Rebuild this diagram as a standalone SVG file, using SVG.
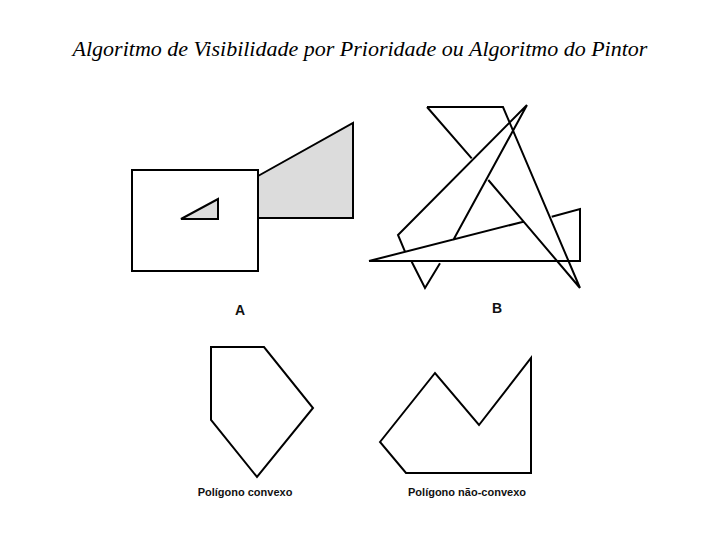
<svg xmlns="http://www.w3.org/2000/svg" width="720" height="540" viewBox="0 0 720 540">
<style>
.s{fill:none;stroke:#000;stroke-width:2;stroke-linejoin:miter}
.g{fill:#dcdcdc;stroke:#000;stroke-width:2}
.w{fill:#fff;stroke:#000;stroke-width:2}
.l{font-family:"Liberation Sans",Arial,sans-serif;font-weight:bold;fill:#111}
</style>
<rect width="720" height="540" fill="#fff"/>
<text x="360" y="56" text-anchor="middle" font-family="Liberation Serif,serif" font-style="italic" font-size="22">Algoritmo de Visibilidade por Prioridade ou Algoritmo do Pintor</text>
<g id="figA">
<polygon class="g" points="258,176 353,123 353,218 258,218"/>
<rect class="w" x="132" y="170" width="126" height="101"/>
<polygon class="g" points="181,219 218,199 218,219"/>
<text class="l" x="240" y="315" font-size="14" text-anchor="middle">A</text>
</g>
<g id="figB">
<path class="s" d="M427,107 L503,107 L580,288 M427,107 L471.7,158.3 M488.3,180 L580,288 M527,105 L398,235 L405,251.7 M411.7,261.7 L425,288 L440,263.3 M453.3,240 L527,105 M369,261 L580,261 L580,209 L551.7,216.7 M523.3,221.7 L369,261"/>
<text class="l" x="497" y="313" font-size="14" text-anchor="middle">B</text>
</g>
<g id="convexo">
<polygon class="s" points="211,347 264,347 313,408 257,477 211,420"/>
<text class="l" x="245" y="496" font-size="11" text-anchor="middle">Polígono convexo</text>
</g>
<g id="naoconvexo">
<polygon class="s" points="380,442 435,373 479,425 531,358 531,473 406,473"/>
<text class="l" x="467" y="496" font-size="11" text-anchor="middle">Polígono não-convexo</text>
</g>
</svg>
